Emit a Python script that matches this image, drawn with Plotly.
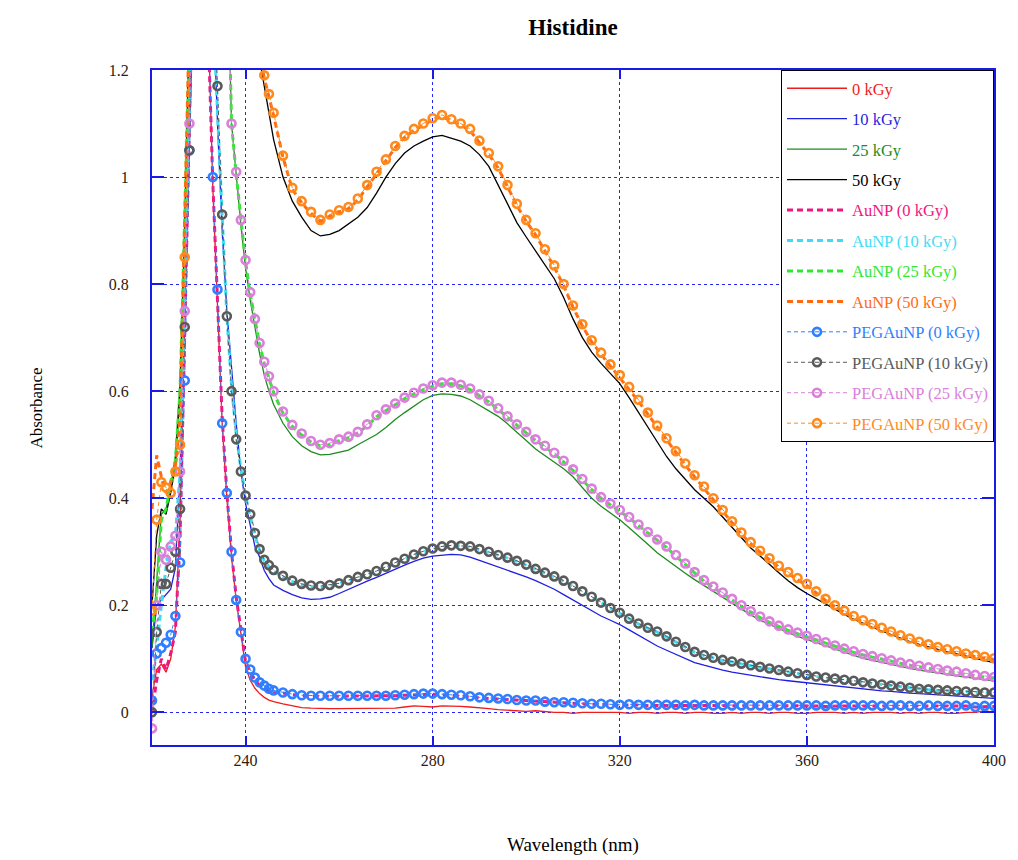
import plotly.graph_objects as go

# ---------------- data ----------------
# wavelength grid (nm): 1 nm steps in the 220-246 region, 2 nm steps afterwards
WL_SPIKE = list(range(220, 247))
WL_MAIN = list(range(248, 401, 2))

# 220 ... 246 nm
kgy0_spike = [0.03, 0.08, 0.09, 0.075, 0.10, 0.16, 0.36, 0.75, 1.12, 1.6,
              2.0, 1.9, 1.3, 0.98, 0.76, 0.54, 0.40, 0.29, 0.21, 0.15,
              0.085, 0.06, 0.045, 0.035, 0.028, 0.023, 0.02]
kgy0_main = [0.016, 0.012, 0.009, 0.008, 0.007, 0.007, 0.007, 0.007, 0.007, 0.007,
             0.007, 0.008, 0.008, 0.010, 0.012, 0.011, 0.010, 0.012, 0.012, 0.011,
             0.010, 0.009, 0.007, 0.005, 0.004, 0.003, 0.002, 0.003, 0.001, 0.0,
             0.0, -0.002, 0.0, 0.0, 0.0, 0.0, 0.0, -0.002, 0.0, 0.0,
             -0.002, 0.0, 0.0, -0.002, 0.0, 0.0, -0.002, -0.002, 0.0, -0.002,
             0.0, 0.0, -0.002, 0.0, 0.0, -0.002, -0.002, 0.0, 0.0, 0.0,
             -0.002, 0.0, -0.002, 0.0, 0.0, 0.0, -0.002, 0.0, -0.002, 0.0,
             0.0, -0.002, -0.002, 0.0, 0.0, 0.003, 0.0]

kgy10_spike = [0.12, 0.20, 0.21, 0.22, 0.23, 0.27, 0.45, 0.75, 1.10, 1.6,
               2.0, 2.0, 1.8, 1.35, 1.10, 0.90, 0.75, 0.64, 0.54, 0.45,
               0.39, 0.35, 0.31, 0.29, 0.265, 0.25, 0.238]
kgy10_main = [0.228, 0.220, 0.214, 0.211, 0.212, 0.215, 0.222, 0.230, 0.238, 0.245,
              0.252, 0.260, 0.268, 0.275, 0.282, 0.288, 0.292, 0.294, 0.295, 0.294,
              0.290, 0.284, 0.278, 0.272, 0.266, 0.260, 0.253, 0.246, 0.238, 0.230,
              0.220, 0.210, 0.200, 0.190, 0.180, 0.172, 0.164, 0.154, 0.144, 0.134,
              0.124, 0.116, 0.108, 0.100, 0.093, 0.088, 0.083, 0.079, 0.075, 0.072,
              0.069, 0.066, 0.063, 0.061, 0.059, 0.057, 0.055, 0.053, 0.051, 0.049,
              0.047, 0.045, 0.044, 0.042, 0.040, 0.039, 0.037, 0.036, 0.035, 0.034,
              0.032, 0.031, 0.030, 0.029, 0.028, 0.027, 0.026]

kgy25_spike = [0.12, 0.25, 0.37, 0.38, 0.42, 0.48, 0.62, 0.90, 1.30, 1.8,
               2.0, 2.0, 2.0, 2.0, 2.0, 1.9, 1.45, 1.10, 1.00, 0.91,
               0.83, 0.77, 0.72, 0.67, 0.63, 0.60, 0.575]
kgy25_main = [0.540, 0.515, 0.498, 0.487, 0.481, 0.482, 0.486, 0.490, 0.500, 0.510,
              0.519, 0.532, 0.547, 0.560, 0.572, 0.584, 0.592, 0.595, 0.594, 0.591,
              0.584, 0.574, 0.564, 0.553, 0.539, 0.524, 0.508, 0.492, 0.480, 0.467,
              0.455, 0.440, 0.420, 0.400, 0.385, 0.372, 0.360, 0.345, 0.330, 0.314,
              0.298, 0.285, 0.272, 0.260, 0.248, 0.237, 0.225, 0.214, 0.203, 0.192,
              0.182, 0.172, 0.164, 0.156, 0.149, 0.142, 0.136, 0.130, 0.124, 0.118,
              0.112, 0.106, 0.101, 0.097, 0.093, 0.089, 0.085, 0.082, 0.079, 0.076,
              0.073, 0.070, 0.068, 0.066, 0.063, 0.061, 0.059]

kgy50_spike = [0.20, 0.33, 0.38, 0.37, 0.41, 0.46, 0.60, 0.90, 1.30, 1.8,
               2.0, 2.0, 2.0, 2.0, 2.0, 2.0, 2.0, 2.0, 2.0, 2.0,
               2.0, 1.8, 1.5, 1.22, 1.17, 1.12, 1.07]
kgy50_main = [1.000, 0.955, 0.925, 0.900, 0.890, 0.893, 0.900, 0.912, 0.925, 0.943,
              0.970, 1.000, 1.025, 1.045, 1.058, 1.067, 1.075, 1.078, 1.072, 1.067,
              1.058, 1.042, 1.020, 0.985, 0.950, 0.915, 0.888, 0.862, 0.837, 0.810,
              0.775, 0.735, 0.700, 0.673, 0.652, 0.633, 0.614, 0.588, 0.560, 0.532,
              0.505, 0.478, 0.455, 0.435, 0.416, 0.400, 0.384, 0.365, 0.345, 0.325,
              0.307, 0.292, 0.276, 0.261, 0.246, 0.233, 0.222, 0.212, 0.202, 0.192,
              0.183, 0.174, 0.166, 0.159, 0.152, 0.145, 0.138, 0.132, 0.127, 0.122,
              0.117, 0.113, 0.109, 0.105, 0.101, 0.097, 0.093]

aunp0_spike = [0.0, 0.06, 0.10, 0.08, 0.11, 0.15, 0.33, 0.72, 1.10, 1.6,
               2.0, 1.9, 1.28, 0.99, 0.77, 0.55, 0.41, 0.30, 0.215, 0.155,
               0.095, 0.075, 0.06, 0.05, 0.045, 0.04, 0.037]
aunp0_main = [0.036, 0.033, 0.031, 0.030, 0.030, 0.030, 0.030, 0.030, 0.030, 0.030,
              0.030, 0.030, 0.031, 0.032, 0.033, 0.034, 0.034, 0.033, 0.032, 0.031,
              0.029, 0.027, 0.026, 0.025, 0.024, 0.022, 0.021, 0.021, 0.019, 0.018,
              0.018, 0.017, 0.016, 0.015, 0.015, 0.014, 0.013, 0.014, 0.013, 0.013,
              0.013, 0.013, 0.013, 0.012, 0.013, 0.012, 0.012, 0.012, 0.012, 0.012,
              0.012, 0.012, 0.012, 0.012, 0.012, 0.012, 0.012, 0.012, 0.011, 0.012,
              0.012, 0.012, 0.012, 0.012, 0.011, 0.012, 0.012, 0.011, 0.011, 0.012,
              0.011, 0.011, 0.011, 0.012, 0.010, 0.011, 0.011]

aunp10_spike = [0.06, 0.12, 0.20, 0.27, 0.32, 0.33, 0.45, 0.80, 1.12, 1.6,
                2.0, 2.0, 1.7, 1.32, 1.12, 0.92, 0.74, 0.61, 0.52, 0.455,
                0.405, 0.365, 0.33, 0.303, 0.283, 0.272, 0.263]
aunp10_main = [0.253, 0.244, 0.238, 0.235, 0.234, 0.236, 0.240, 0.245, 0.251, 0.257,
               0.263, 0.270, 0.278, 0.286, 0.294, 0.300, 0.305, 0.309, 0.311, 0.311,
               0.309, 0.304, 0.299, 0.293, 0.288, 0.282, 0.275, 0.267, 0.260, 0.253,
               0.245, 0.235, 0.225, 0.215, 0.204, 0.194, 0.185, 0.174, 0.165, 0.157,
               0.150, 0.141, 0.131, 0.121, 0.112, 0.106, 0.101, 0.097, 0.094, 0.090,
               0.087, 0.084, 0.081, 0.078, 0.075, 0.072, 0.069, 0.066, 0.064, 0.062,
               0.060, 0.058, 0.055, 0.053, 0.051, 0.049, 0.047, 0.045, 0.043, 0.042,
               0.041, 0.040, 0.039, 0.038, 0.037, 0.036, 0.036]

aunp25_spike = [0.15, 0.22, 0.36, 0.38, 0.43, 0.47, 0.60, 0.90, 1.25, 1.8,
                2.0, 2.0, 2.0, 2.0, 2.0, 1.9, 1.48, 1.10, 1.005, 0.918,
                0.842, 0.782, 0.733, 0.688, 0.652, 0.625, 0.597]
aunp25_main = [0.559, 0.534, 0.518, 0.505, 0.498, 0.500, 0.507, 0.513, 0.522, 0.535,
               0.552, 0.563, 0.575, 0.586, 0.595, 0.603, 0.609, 0.614, 0.614, 0.610,
               0.603, 0.592, 0.580, 0.566, 0.551, 0.536, 0.522, 0.508, 0.496, 0.483,
               0.468, 0.452, 0.434, 0.416, 0.400, 0.388, 0.376, 0.363, 0.349, 0.335,
               0.321, 0.308, 0.292, 0.276, 0.260, 0.245, 0.233, 0.222, 0.210, 0.198,
               0.187, 0.177, 0.168, 0.160, 0.153, 0.147, 0.141, 0.135, 0.129, 0.123,
               0.117, 0.112, 0.107, 0.103, 0.099, 0.095, 0.091, 0.088, 0.085, 0.082,
               0.079, 0.076, 0.074, 0.071, 0.068, 0.066, 0.064]

aunp50_spike = [0.38, 0.48, 0.44, 0.41, 0.43, 0.46, 0.55, 0.90, 1.30, 1.8,
                2.0, 2.0, 2.0, 2.0, 2.0, 2.0, 2.0, 2.0, 2.0, 2.0,
                2.0, 1.8, 1.5, 1.23, 1.185, 1.15, 1.115]
aunp50_main = [1.037, 0.977, 0.952, 0.932, 0.917, 0.927, 0.935, 0.941, 0.957, 0.982,
               1.007, 1.030, 1.055, 1.074, 1.087, 1.097, 1.107, 1.113, 1.105, 1.097,
               1.087, 1.065, 1.042, 1.017, 0.982, 0.947, 0.917, 0.892, 0.862, 0.832,
               0.797, 0.757, 0.722, 0.692, 0.669, 0.647, 0.627, 0.605, 0.581, 0.557,
               0.533, 0.509, 0.485, 0.462, 0.440, 0.419, 0.397, 0.375, 0.354, 0.333,
               0.315, 0.299, 0.285, 0.271, 0.259, 0.248, 0.237, 0.223, 0.209, 0.197,
               0.187, 0.177, 0.169, 0.162, 0.155, 0.148, 0.141, 0.135, 0.129, 0.124,
               0.119, 0.115, 0.111, 0.107, 0.104, 0.101, 0.098]

peg0_spike = [0.022, 0.11, 0.12, 0.13, 0.145, 0.18, 0.28, 0.62, 1.05, 1.6,
              2.0, 1.9, 1.3, 1.0, 0.79, 0.54, 0.41, 0.30, 0.21, 0.15,
              0.10, 0.08, 0.065, 0.056, 0.05, 0.044, 0.041]
peg0_main = [0.037, 0.034, 0.032, 0.031, 0.031, 0.031, 0.031, 0.031, 0.031, 0.031,
             0.031, 0.031, 0.032, 0.033, 0.034, 0.035, 0.035, 0.034, 0.033, 0.032,
             0.030, 0.028, 0.027, 0.026, 0.025, 0.023, 0.022, 0.022, 0.020, 0.019,
             0.019, 0.018, 0.017, 0.016, 0.016, 0.015, 0.014, 0.015, 0.014, 0.014,
             0.014, 0.014, 0.014, 0.013, 0.014, 0.013, 0.013, 0.013, 0.013, 0.013,
             0.013, 0.013, 0.013, 0.013, 0.013, 0.013, 0.013, 0.013, 0.012, 0.013,
             0.013, 0.013, 0.013, 0.013, 0.012, 0.013, 0.013, 0.012, 0.012, 0.013,
             0.012, 0.012, 0.012, 0.013, 0.010, 0.012, 0.012]

peg10_spike = [0.0, 0.15, 0.24, 0.24, 0.27, 0.30, 0.38, 0.72, 1.05, 1.6,
               2.0, 2.0, 1.8, 1.4, 1.17, 0.93, 0.74, 0.60, 0.51, 0.45,
               0.405, 0.37, 0.335, 0.305, 0.285, 0.275, 0.266]
peg10_main = [0.255, 0.246, 0.240, 0.237, 0.236, 0.238, 0.241, 0.247, 0.253, 0.258,
              0.264, 0.272, 0.280, 0.287, 0.295, 0.301, 0.306, 0.310, 0.312, 0.311,
              0.310, 0.305, 0.300, 0.294, 0.289, 0.283, 0.276, 0.268, 0.261, 0.254,
              0.246, 0.236, 0.226, 0.216, 0.205, 0.195, 0.186, 0.175, 0.166, 0.158,
              0.151, 0.142, 0.132, 0.122, 0.113, 0.107, 0.102, 0.098, 0.095, 0.091,
              0.088, 0.085, 0.082, 0.079, 0.076, 0.073, 0.070, 0.067, 0.065, 0.063,
              0.061, 0.059, 0.056, 0.054, 0.052, 0.050, 0.048, 0.046, 0.044, 0.043,
              0.042, 0.041, 0.040, 0.039, 0.038, 0.037, 0.037]

peg25_spike = [-0.03, 0.20, 0.30, 0.285, 0.31, 0.33, 0.45, 0.75, 1.10, 1.6,
               2.0, 2.0, 2.0, 2.0, 2.0, 1.9, 1.5, 1.10, 1.01, 0.92,
               0.845, 0.785, 0.735, 0.69, 0.655, 0.628, 0.60]
peg25_main = [0.562, 0.537, 0.521, 0.507, 0.500, 0.503, 0.510, 0.515, 0.524, 0.538,
              0.555, 0.566, 0.577, 0.588, 0.597, 0.605, 0.611, 0.616, 0.616, 0.612,
              0.605, 0.594, 0.582, 0.568, 0.553, 0.538, 0.524, 0.510, 0.498, 0.485,
              0.470, 0.454, 0.436, 0.418, 0.402, 0.390, 0.378, 0.365, 0.351, 0.337,
              0.323, 0.310, 0.294, 0.278, 0.262, 0.247, 0.235, 0.224, 0.212, 0.200,
              0.189, 0.179, 0.170, 0.162, 0.155, 0.149, 0.143, 0.137, 0.131, 0.125,
              0.119, 0.114, 0.109, 0.105, 0.101, 0.097, 0.093, 0.090, 0.087, 0.084,
              0.081, 0.078, 0.076, 0.073, 0.070, 0.068, 0.066]

peg50_spike = [0.19, 0.36, 0.43, 0.42, 0.41, 0.45, 0.50, 0.85, 1.25, 1.8,
               2.0, 2.0, 2.0, 2.0, 2.0, 2.0, 2.0, 2.0, 2.0, 2.0,
               2.0, 1.8, 1.5, 1.23, 1.19, 1.155, 1.12]
peg50_main = [1.040, 0.980, 0.955, 0.935, 0.920, 0.930, 0.938, 0.944, 0.960, 0.985,
              1.010, 1.033, 1.058, 1.077, 1.090, 1.100, 1.110, 1.116, 1.108, 1.100,
              1.090, 1.068, 1.045, 1.020, 0.985, 0.950, 0.920, 0.895, 0.865, 0.835,
              0.800, 0.760, 0.725, 0.695, 0.672, 0.650, 0.630, 0.608, 0.584, 0.560,
              0.536, 0.512, 0.488, 0.465, 0.443, 0.422, 0.400, 0.378, 0.357, 0.336,
              0.318, 0.302, 0.288, 0.274, 0.262, 0.251, 0.240, 0.226, 0.212, 0.200,
              0.190, 0.180, 0.172, 0.165, 0.158, 0.151, 0.144, 0.138, 0.132, 0.127,
              0.122, 0.118, 0.114, 0.110, 0.107, 0.104, 0.101]

SERIES_NAMES = ["0 kGy", "10 kGy", "25 kGy", "50 kGy",
                "AuNP (0 kGy)", "AuNP (10 kGy)", "AuNP (25 kGy)", "AuNP (50 kGy)",
                "PEGAuNP (0 kGy)", "PEGAuNP (10 kGy)", "PEGAuNP (25 kGy)", "PEGAuNP (50 kGy)"]
SERIES_VALUES = [kgy0_spike + kgy0_main, kgy10_spike + kgy10_main,
                 kgy25_spike + kgy25_main, kgy50_spike + kgy50_main,
                 aunp0_spike + aunp0_main, aunp10_spike + aunp10_main,
                 aunp25_spike + aunp25_main, aunp50_spike + aunp50_main,
                 peg0_spike + peg0_main, peg10_spike + peg10_main,
                 peg25_spike + peg25_main, peg50_spike + peg50_main]

X_TICKS = [240, 280, 320, 360, 400]
Y_TICKS = [0, 0.2, 0.4, 0.6, 0.8, 1, 1.2]

# ---------------- styling ----------------
COLORS = ["#EE1C1C", "#1F1FE0", "#1E8A1E", "#000000",
          "#F0167E", "#3FDDF5", "#33E633", "#FF6A13",
          "#2F7FFF", "#5A5A5A", "#DA7FDA", "#FF8A1C"]
SERIF = "Liberation Serif, Times New Roman, serif"
AXIS_BLUE = "#1A1AE6"
GRID_BLUE = "#2424F0"
TICK_TXT = "#2e2010"

WL = WL_SPIKE + WL_MAIN

fig = go.Figure()
for i, (name, vals) in enumerate(zip(SERIES_NAMES, SERIES_VALUES)):
    c = COLORS[i]
    label = f"<span style='color:{c}'>{name}</span>"
    if i < 4:
        tr = go.Scatter(x=WL, y=vals, mode="lines", name=label,
                        line=dict(color=c, width=1.3))
    elif i < 8:
        tr = go.Scatter(x=WL, y=vals, mode="lines", name=label,
                        line=dict(color=c, width=3, dash="6px,4px"))
    else:
        tr = go.Scatter(x=WL, y=vals, mode="lines+markers", name=label,
                        line=dict(color=c, width=1, dash="4px,3px"),
                        marker=dict(symbol="circle-open", size=8, color=c,
                                    line=dict(color=c, width=2.6)))
    tr.legendgroup = f"g{i}"
    fig.add_trace(tr)

fig.update_layout(
    width=1018, height=860,
    margin=dict(l=152, r=20, t=70, b=115),
    paper_bgcolor="white", plot_bgcolor="white",
    font=dict(family=SERIF, size=16, color=TICK_TXT),
    title=dict(text="<b>Histidine</b>", x=0.5, xref="paper", xanchor="center",
               y=1 - 27 / 860, yref="container", yanchor="middle",
               font=dict(family=SERIF, size=23, color="#000000")),
    showlegend=True,
    legend=dict(x=1, y=1, xanchor="right", yanchor="top",
                bgcolor="white", bordercolor="#000000", borderwidth=1,
                font=dict(family=SERIF, size=16.5),
                traceorder="grouped", tracegroupgap=6, itemwidth=60),
)

fig.update_xaxes(range=[220, 400], tickvals=X_TICKS, ticktext=[str(v) for v in X_TICKS],
                 showline=True, linecolor=AXIS_BLUE, linewidth=2, mirror="ticks",
                 ticks="inside", ticklen=9, tickwidth=1.5, tickcolor=AXIS_BLUE,
                 showgrid=True, gridcolor=GRID_BLUE, gridwidth=1, griddash="dot",
                 zeroline=False, tickfont=dict(family=SERIF, size=16, color=TICK_TXT))
fig.update_yaxes(range=[-0.061, 1.2], tickvals=Y_TICKS,
                 ticktext=["0", "0.2", "0.4", "0.6", "0.8", "1", "1.2"],
                 showline=True, linecolor=AXIS_BLUE, linewidth=2, mirror="ticks",
                 ticks="inside", ticklen=12, tickwidth=1.5, tickcolor=AXIS_BLUE,
                 showgrid=True, gridcolor=GRID_BLUE, gridwidth=1, griddash="dot",
                 zeroline=False, ticklabelstandoff=18,
                 tickfont=dict(family=SERIF, size=16, color=TICK_TXT))

fig.add_annotation(text="Absorbance", xref="paper", yref="paper",
                   x=(35 - 152) / 846, y=(745 - 408) / 675, textangle=-90,
                   showarrow=False, xanchor="center", yanchor="middle",
                   font=dict(family=SERIF, size=17, color="#000000"))
fig.add_annotation(text="Wavelength (nm)", xref="paper", yref="paper",
                   x=0.5, y=(745 - 845) / 675,
                   showarrow=False, xanchor="center", yanchor="middle",
                   font=dict(family=SERIF, size=19, color="#000000"))

fig.write_html("out.html")
